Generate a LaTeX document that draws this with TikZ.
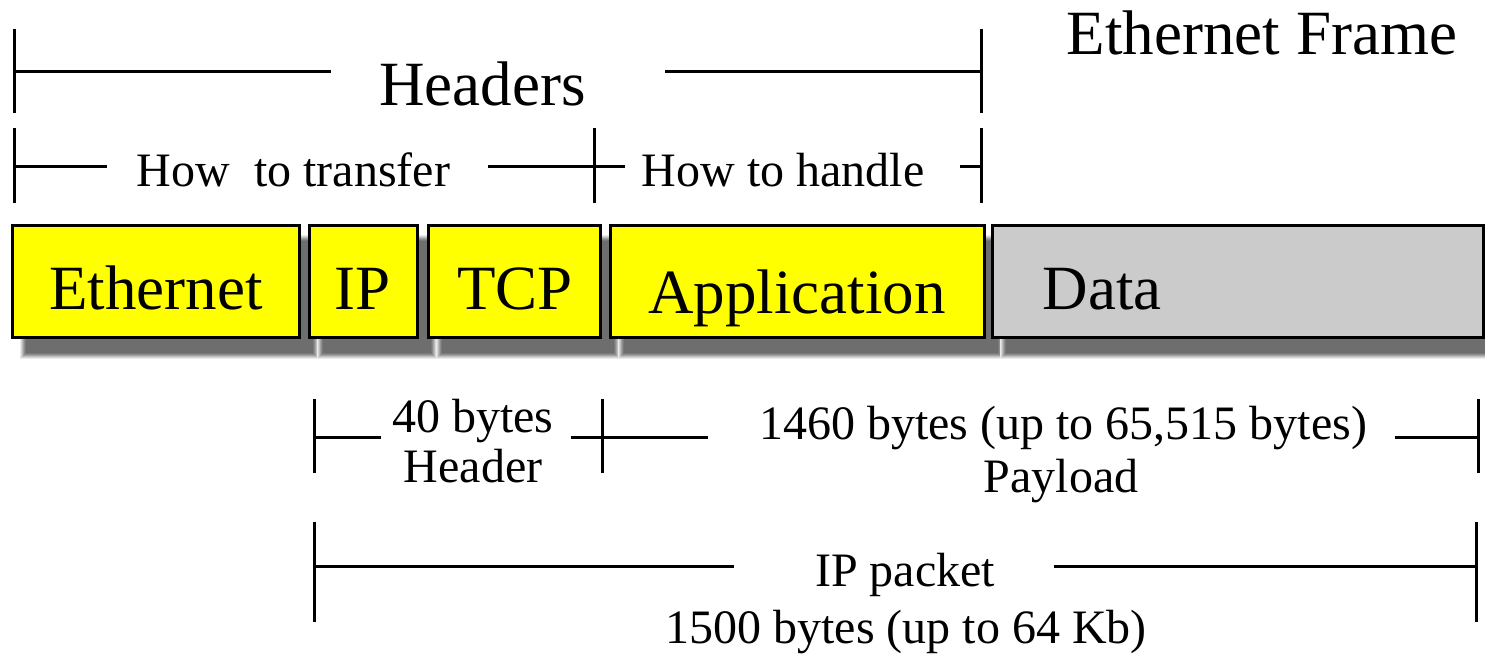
\documentclass[tikz,border=0pt]{standalone}
\usepackage{fontspec}
\setmainfont{Liberation Serif}
\begin{document}
\begin{tikzpicture}[x=0.5pt,y=-0.5pt,
  dimline/.style={line width=1.5pt,black},
  pbox/.style={draw=black,line width=1.5pt,rectangle,inner sep=0pt,minimum height=56pt},
  big/.style={font=\fontsize{31.5}{36}\selectfont,inner sep=0pt,anchor=base},
  mid/.style={font=\fontsize{24}{28}\selectfont,inner sep=0pt,anchor=base}]
\useasboundingbox (0,0) rectangle (1485,655);
\clip (0,0) rectangle (1485,655);
\definecolor{pyellow}{RGB}{255,255,0}
\definecolor{pgray}{RGB}{203,203,203}
% shadows
\foreach \xa/\xb in {12/299, 309/417, 428/600, 610/984, 992/1483}{
  \foreach \i/\c in {6/8, 5/16, 4/26, 3/36, 2/45, 1/52, 0/57}{
    \fill[black!\c] (\xa+14-\i,225.5+15-\i) rectangle (\xb+14+\i,337.5+15+\i);
  }
}
% boxes
\node[pbox,fill=pyellow,minimum width=143.5pt] (eth) at (155.5,281.5) {};
\node[pbox,fill=pyellow,minimum width=54pt] (ip) at (363,281.5) {};
\node[pbox,fill=pyellow,minimum width=86pt] (tcp) at (514,281.5) {};
\node[pbox,fill=pyellow,minimum width=187pt] (app) at (797,281.5) {};
\node[pbox,fill=pgray,minimum width=245.5pt] (data) at (1237.5,281.5) {};
% box labels
\node[big] (lEth) at (156,309) {Ethernet};
\node[big] (lIP) at (363,309) {IP};
\node[big] (lTCP) at (515,309) {TCP};
\node[big] (lApp) at (797,313) {Application};
\node[big] (lData) at (1102,309) {Data};
% texts
\node[big] (tframe) at (1262,54) {Ethernet Frame};
\node[big] (theaders) at (482.5,105) {Headers};
\node[mid] (ttransfer) at (293.5,186) {How\ \ to transfer};
\node[mid] (thandle) at (783,186) {How to handle};
\node[mid] (t40) at (473,432) {40 bytes};
\node[mid] (thdr) at (473,482) {Header};
\node[mid] (t1460) at (1063,439) {1460 bytes (up to 65,515 bytes)};
\node[mid] (tpay) at (1061,492) {Payload};
\node[mid] (tpkt) at (905,586) {IP packet};
\node[mid] (t1500) at (906,643) {1500 bytes (up to 64 Kb)};
% dimension coordinates
\coordinate (a1) at (14,29);  \coordinate (a2) at (14,113);
\coordinate (a3) at (981,29); \coordinate (a4) at (981,113);
\coordinate (a5) at (14,71);  \coordinate (a6) at (331,71);
\coordinate (a7) at (665,71); \coordinate (a8) at (981,71);
\coordinate (b1) at (14,128);  \coordinate (b2) at (14,203);
\coordinate (b3) at (594,128); \coordinate (b4) at (594,203);
\coordinate (b5) at (981,128); \coordinate (b6) at (981,203);
\coordinate (b7) at (14,166);  \coordinate (b8) at (107,166);
\coordinate (b9) at (488,166); \coordinate (b10) at (625,166);
\coordinate (b11) at (960,166); \coordinate (b12) at (981,166);
\coordinate (c1) at (314,399);  \coordinate (c2) at (314,473);
\coordinate (c3) at (602,399);  \coordinate (c4) at (602,473);
\coordinate (c5) at (1478,399); \coordinate (c6) at (1478,473);
\coordinate (c7) at (314,437);  \coordinate (c8) at (381,437);
\coordinate (c9) at (571,437);  \coordinate (c10) at (708,437);
\coordinate (c11) at (1395,437); \coordinate (c12) at (1478,437);
\coordinate (d1) at (314,522);  \coordinate (d2) at (314,622);
\coordinate (d3) at (1476,522); \coordinate (d4) at (1476,622);
\coordinate (d5) at (314,566);  \coordinate (d6) at (734,566);
\coordinate (d7) at (1054,566); \coordinate (d8) at (1476,566);
\draw[dimline] (a1)--(a2) (a3)--(a4) (a5)--(a6) (a7)--(a8);
\draw[dimline] (b1)--(b2) (b3)--(b4) (b5)--(b6) (b7)--(b8) (b9)--(b10) (b11)--(b12);
\draw[dimline] (c1)--(c2) (c3)--(c4) (c5)--(c6) (c7)--(c8) (c9)--(c10) (c11)--(c12);
\draw[dimline] (d1)--(d2) (d3)--(d4) (d5)--(d6) (d7)--(d8);
\end{tikzpicture}
\end{document}
